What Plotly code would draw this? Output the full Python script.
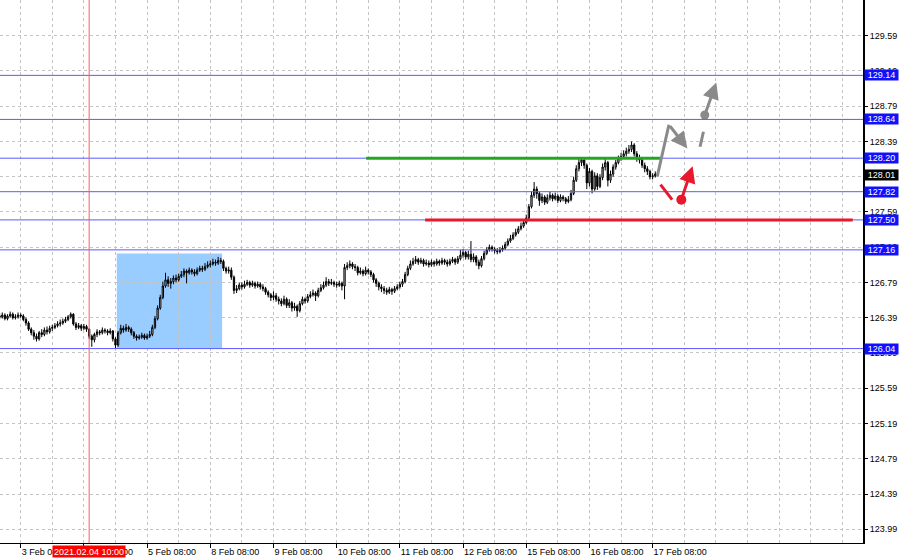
import plotly.graph_objects as go

# ---------------- data (H1 candles, bar index 0 = 3 Feb 00:00) ----------------
close = [
    126.40, 126.42, 126.38, 126.41, 126.43, 126.39, 126.40, 126.42, 126.41, 126.37,
    126.33, 126.26, 126.22, 126.18, 126.15, 126.22, 126.20, 126.25, 126.23, 126.27,
    126.28, 126.30, 126.32, 126.33, 126.35, 126.37, 126.40, 126.43, 126.32, 126.28,
    126.30, 126.27, 126.29, 126.26, 126.18, 126.14, 126.20, 126.23, 126.22, 126.25,
    126.24, 126.22, 126.24, 126.15, 126.08, 126.22, 126.27, 126.25, 126.28, 126.26,
    126.22, 126.18, 126.16, 126.17, 126.19, 126.16, 126.18, 126.20, 126.28, 126.38,
    126.50, 126.62, 126.75, 126.82, 126.78, 126.80, 126.84, 126.82, 126.86, 126.88,
    126.92, 126.90, 126.93, 126.91, 126.89, 126.93, 126.95, 126.94, 126.97, 126.99,
    127.00, 127.02, 127.01, 127.04, 127.03, 126.95, 126.92, 126.93, 126.85, 126.70,
    126.72, 126.76, 126.74, 126.77, 126.79, 126.76, 126.78, 126.75, 126.77, 126.74,
    126.72, 126.68, 126.65, 126.62, 126.64, 126.60, 126.58, 126.55, 126.60, 126.53,
    126.56, 126.50, 126.52, 126.47, 126.55, 126.60, 126.58, 126.63, 126.65, 126.67,
    126.64, 126.70, 126.73, 126.76, 126.80, 126.78, 126.79, 126.77, 126.76, 126.78,
    126.75, 126.96, 126.98, 127.00, 126.97, 126.96, 126.90, 126.92, 126.89, 126.93,
    126.91, 126.88, 126.82, 126.78, 126.74, 126.72, 126.70, 126.68, 126.71, 126.69,
    126.72, 126.74, 126.77, 126.80, 126.88, 126.95, 127.00, 127.03, 127.05, 127.02,
    127.04, 127.00, 127.01, 126.99, 127.02, 127.00, 127.03, 127.01, 127.04, 127.02,
    127.00, 127.03, 127.05, 127.02, 127.06, 127.10, 127.13, 127.08, 127.11, 127.05,
    127.08, 127.02, 126.98, 127.06, 127.12, 127.16, 127.19, 127.17, 127.15, 127.14,
    127.16, 127.18, 127.22, 127.26, 127.29, 127.33, 127.36, 127.40, 127.43, 127.47,
    127.52, 127.65, 127.78, 127.85, 127.80, 127.72, 127.76, 127.70, 127.75, 127.78,
    127.74, 127.77, 127.72, 127.76, 127.74, 127.71, 127.73, 127.80, 127.95, 128.08,
    128.15, 128.18, 128.12, 127.92, 128.05, 127.85, 128.00, 127.88, 127.98, 128.10,
    128.15, 127.95, 128.02, 128.10, 128.15, 128.20, 128.22, 128.25, 128.28, 128.30,
    128.35, 128.25, 128.20, 128.18, 128.12, 128.08, 128.05, 127.99, 128.00, 128.02,
    128.01,
]
high = [
    126.44, 126.45, 126.44, 126.43, 126.46, 126.45, 126.43, 126.45, 126.44, 126.43,
    126.39, 126.35, 126.28, 126.25, 126.21, 126.24, 126.26, 126.28, 126.29, 126.30,
    126.31, 126.33, 126.35, 126.37, 126.38, 126.40, 126.42, 126.45, 126.44, 126.34,
    126.33, 126.32, 126.32, 126.31, 126.27, 126.20, 126.22, 126.26, 126.25, 126.28,
    126.27, 126.26, 126.27, 126.25, 126.17, 126.24, 126.31, 126.30, 126.32, 126.30,
    126.28, 126.24, 126.20, 126.20, 126.22, 126.21, 126.21, 126.24, 126.31, 126.41,
    126.53, 126.65, 126.80, 126.90, 126.86, 126.84, 126.87, 126.88, 126.89, 126.92,
    126.95, 126.94, 126.96, 126.95, 126.94, 126.96, 126.98, 126.98, 127.01, 127.03,
    127.04, 127.06, 127.05, 127.08, 127.07, 127.05, 126.97, 126.97, 126.96, 126.87,
    126.76, 126.79, 126.79, 126.81, 126.82, 126.81, 126.81, 126.80, 126.80, 126.79,
    126.77, 126.74, 126.70, 126.67, 126.69, 126.67, 126.63, 126.61, 126.64, 126.62,
    126.60, 126.58, 126.56, 126.54, 126.58, 126.63, 126.62, 126.66, 126.69, 126.71,
    126.69, 126.73, 126.77, 126.80, 126.85, 126.83, 126.83, 126.81, 126.80, 126.81,
    126.80, 127.00, 127.02, 127.04, 127.02, 127.00, 126.98, 126.96, 126.94, 126.97,
    126.95, 126.93, 126.90, 126.84, 126.80, 126.77, 126.75, 126.73, 126.74, 126.73,
    126.75, 126.77, 126.80, 126.83, 126.91, 126.98, 127.04, 127.07, 127.09, 127.07,
    127.07, 127.06, 127.05, 127.04, 127.05, 127.04, 127.06, 127.05, 127.07, 127.06,
    127.05, 127.06, 127.08, 127.07, 127.09, 127.16, 127.17, 127.15, 127.15, 127.26,
    127.12, 127.10, 127.05, 127.09, 127.15, 127.19, 127.22, 127.21, 127.19, 127.18,
    127.19, 127.21, 127.25, 127.29, 127.33, 127.36, 127.40, 127.43, 127.47, 127.51,
    127.56, 127.68, 127.82, 127.93, 127.88, 127.82, 127.80, 127.78, 127.79, 127.82,
    127.80, 127.81, 127.79, 127.79, 127.78, 127.76, 127.77, 127.84, 127.99, 128.12,
    128.20, 128.21, 128.20, 128.14, 128.09, 128.07, 128.04, 128.03, 128.02, 128.14,
    128.20, 128.17, 128.06, 128.13, 128.18, 128.23, 128.26, 128.29, 128.32, 128.35,
    128.39, 128.37, 128.28, 128.24, 128.20, 128.15, 128.11, 128.07, 128.03, 128.05,
    128.04,
]
low = [
    126.37, 126.38, 126.36, 126.36, 126.39, 126.37, 126.37, 126.38, 126.39, 126.35,
    126.30, 126.24, 126.19, 126.14, 126.12, 126.13, 126.17, 126.18, 126.20, 126.21,
    126.24, 126.26, 126.28, 126.29, 126.31, 126.33, 126.35, 126.38, 126.30, 126.25,
    126.26, 126.24, 126.25, 126.23, 126.15, 126.06, 126.11, 126.17, 126.19, 126.20,
    126.21, 126.19, 126.20, 126.12, 126.04, 126.06, 126.20, 126.22, 126.23, 126.23,
    126.19, 126.15, 126.13, 126.14, 126.15, 126.14, 126.14, 126.16, 126.18, 126.26,
    126.36, 126.48, 126.60, 126.73, 126.74, 126.72, 126.77, 126.79, 126.80, 126.84,
    126.85, 126.78, 126.88, 126.88, 126.86, 126.87, 126.91, 126.91, 126.92, 126.95,
    126.96, 126.98, 126.98, 126.99, 127.00, 126.92, 126.89, 126.89, 126.82, 126.66,
    126.67, 126.70, 126.71, 126.72, 126.75, 126.73, 126.74, 126.72, 126.73, 126.71,
    126.69, 126.65, 126.62, 126.58, 126.59, 126.57, 126.54, 126.52, 126.53, 126.50,
    126.50, 126.46, 126.47, 126.40, 126.45, 126.53, 126.55, 126.56, 126.61, 126.63,
    126.58, 126.62, 126.68, 126.71, 126.74, 126.75, 126.76, 126.74, 126.73, 126.74,
    126.70, 126.60, 126.93, 126.95, 126.94, 126.92, 126.87, 126.88, 126.86, 126.87,
    126.88, 126.85, 126.79, 126.74, 126.70, 126.68, 126.66, 126.65, 126.66, 126.65,
    126.67, 126.70, 126.72, 126.74, 126.78, 126.86, 126.93, 126.98, 127.00, 126.99,
    127.00, 126.97, 126.98, 126.96, 126.97, 126.97, 126.98, 126.98, 126.99, 126.99,
    126.97, 126.98, 127.01, 126.99, 127.00, 127.04, 127.07, 127.05, 127.05, 127.02,
    127.02, 126.98, 126.94, 126.96, 127.04, 127.10, 127.14, 127.14, 127.12, 127.11,
    127.12, 127.14, 127.16, 127.20, 127.24, 127.27, 127.31, 127.34, 127.38, 127.41,
    127.45, 127.50, 127.63, 127.75, 127.74, 127.66, 127.69, 127.67, 127.68, 127.72,
    127.71, 127.72, 127.69, 127.70, 127.71, 127.68, 127.69, 127.71, 127.78, 127.93,
    128.05, 128.11, 128.08, 127.85, 127.88, 127.80, 127.83, 127.84, 127.86, 127.95,
    128.06, 127.88, 127.92, 127.99, 128.07, 128.13, 128.17, 128.20, 128.22, 128.25,
    128.27, 128.22, 128.16, 128.14, 128.09, 128.04, 128.01, 127.96, 127.96, 127.98,
    127.99,
]
first_open = 126.41
open_ = [first_open] + close[:-1]
bars = list(range(len(close)))

day_tick_bars = [8, 32, 56, 80, 104, 128, 152, 176, 200, 224, 248]
day_labels = ["3 Feb 08:00", "4 Feb 08:00", "5 Feb 08:00", "8 Feb 08:00", "9 Feb 08:00",
              "10 Feb 08:00", "11 Feb 08:00", "12 Feb 08:00", "15 Feb 08:00",
              "16 Feb 08:00", "17 Feb 08:00"]
price_ticks = [123.99, 124.39, 124.79, 125.19, 125.59, 125.99, 126.39, 126.79,
               127.19, 127.59, 127.99, 128.39, 128.79, 129.19, 129.59]
levels = [129.14, 128.64, 128.20, 127.82, 127.50, 127.16, 126.04]
last_price = 128.01
marker_bar = 34
marker_label = "2021.02.04 10:00"
zone_bars = [44.5, 84.5]
zone_prices = [126.04, 127.12]
green_bars = [139.2, 251.0]
green_price = 128.20
red_bars = [161.6, 324.0]
red_price = 127.50

# forecast drawings (bar index, price)
gray_up_x = [249.8, 254.2]
gray_up_y = [128.00, 128.58]
gray_down_x = [254.2, 261.2]
gray_down_y = [128.58, 128.31]
gray_dash_x = [266.0, 267.3]
gray_dash_y = [128.33, 128.50]
gray_dot = (267.8, 128.69)
gray_tip = (272.2, 129.06)
red_seg_x = [251.0, 255.4]
red_seg_y = [127.90, 127.73]
red_dot = (258.9, 127.73)
red_tip = (263.2, 128.11)

X_RANGE = [0.14, 327.9]
Y_RANGE = [123.834, 129.995]
GRID = "#c4c4c4"
GRAY = "#8a8a8a"
RED = "#e8192c"
FONT = "Liberation Sans"

fig = go.Figure()
fig.add_trace(go.Candlestick(
    x=bars, open=open_, high=high, low=low, close=close,
    increasing=dict(line=dict(color="black", width=1), fillcolor="#e6e6e6"),
    decreasing=dict(line=dict(color="black", width=1), fillcolor="black"),
    whiskerwidth=0, showlegend=False, hoverinfo="skip"))

# forecast dots
fig.add_trace(go.Scatter(x=[gray_dot[0]], y=[gray_dot[1]], mode="markers",
                         marker=dict(color=GRAY, size=9), showlegend=False, hoverinfo="skip"))
fig.add_trace(go.Scatter(x=[red_dot[0]], y=[red_dot[1]], mode="markers",
                         marker=dict(color=RED, size=10), showlegend=False, hoverinfo="skip"))

shapes = []
shapes.append(dict(type="rect", xref="x", yref="y", x0=zone_bars[0], x1=zone_bars[1],
                   y0=zone_prices[0], y1=zone_prices[1], fillcolor="#99ccff",
                   line=dict(width=0), layer="below"))
for lv in levels:
    shapes.append(dict(type="line", xref="paper", yref="y", x0=0, x1=1, y0=lv, y1=lv,
                       line=dict(color="#5a5aff", width=1), layer="above"))
shapes.append(dict(type="line", xref="x", yref="paper", x0=marker_bar, x1=marker_bar,
                   y0=0, y1=1, line=dict(color="#ff5a5a", width=1), layer="above"))
shapes.append(dict(type="line", xref="x", yref="y", x0=green_bars[0], x1=green_bars[1],
                   y0=green_price, y1=green_price, line=dict(color="#22a722", width=3),
                   layer="above"))
shapes.append(dict(type="line", xref="x", yref="y", x0=red_bars[0], x1=red_bars[1],
                   y0=red_price, y1=red_price, line=dict(color=RED, width=3), layer="above"))
shapes.append(dict(type="line", xref="x", yref="y", x0=gray_up_x[0], x1=gray_up_x[1],
                   y0=gray_up_y[0], y1=gray_up_y[1], line=dict(color=GRAY, width=3)))
shapes.append(dict(type="line", xref="x", yref="y", x0=gray_dash_x[0], x1=gray_dash_x[1],
                   y0=gray_dash_y[0], y1=gray_dash_y[1], line=dict(color=GRAY, width=3)))
shapes.append(dict(type="line", xref="x", yref="y", x0=red_seg_x[0], x1=red_seg_x[1],
                   y0=red_seg_y[0], y1=red_seg_y[1], line=dict(color=RED, width=3)))

annotations = []
arrow_common = dict(xref="x", yref="y", axref="x", ayref="y", text="", showarrow=True,
                    arrowhead=2, arrowsize=1.1, arrowwidth=3, standoff=0, startstandoff=0)
annotations.append(dict(x=gray_down_x[1], y=gray_down_y[1], ax=gray_down_x[0], ay=gray_down_y[0],
                        arrowcolor=GRAY, **arrow_common))
annotations.append(dict(x=gray_tip[0], y=gray_tip[1], ax=gray_dot[0], ay=gray_dot[1],
                        arrowcolor=GRAY, **arrow_common))
annotations.append(dict(x=red_tip[0], y=red_tip[1], ax=red_dot[0], ay=red_dot[1],
                        arrowcolor=RED, **arrow_common))

for lv in levels:
    annotations.append(dict(x=1, xref="paper", xanchor="left", xshift=1, y=lv, yref="y",
                            text=f"{lv:.2f}", showarrow=False, bgcolor="#1010ff",
                            font=dict(color="white", size=9, family=FONT),
                            width=33, height=10, borderpad=0))
annotations.append(dict(x=1, xref="paper", xanchor="left", xshift=1, y=last_price, yref="y",
                        text=f"{last_price:.2f}", showarrow=False, bgcolor="black",
                        font=dict(color="white", size=9, family=FONT),
                        width=33, height=10, borderpad=0))
annotations.append(dict(x=marker_bar, xref="x", y=0, yref="paper", yanchor="top", yshift=-2,
                        text=marker_label, showarrow=False, bgcolor="#ff0000",
                        font=dict(color="white", size=9, family=FONT),
                        width=72, height=11, borderpad=0))

fig.update_layout(
    width=900, height=559,
    margin=dict(l=0, r=37, t=0, b=16, autoexpand=False),
    paper_bgcolor="white", plot_bgcolor="white",
    font=dict(family=FONT, size=9, color="black"),
    shapes=shapes, annotations=annotations, showlegend=False,
    xaxis=dict(range=X_RANGE, tickmode="array", tickvals=day_tick_bars, ticktext=day_labels,
               ticklabelposition="outside right", ticks="outside", ticklen=4,
               tickcolor="black", showline=True, linecolor="black", linewidth=1,
               showgrid=True, gridcolor=GRID, griddash="3px,3px", gridwidth=1,
               zeroline=False, rangeslider=dict(visible=False),
               minor=dict(tick0=-4, dtick=12, showgrid=True, gridcolor=GRID,
                          griddash="3px,3px", ticks="")),
    yaxis=dict(range=Y_RANGE, side="right", tickmode="array", tickvals=price_ticks,
               ticktext=[f"{p:.2f}" for p in price_ticks], ticks="outside", ticklen=3,
               tickcolor="black", showline=True, linecolor="black", linewidth=2,
               showgrid=True, gridcolor=GRID, griddash="3px,3px", gridwidth=1,
               zeroline=False),
)

fig.write_html("out.html",
               config={"displayModeBar": False},
               post_script="document.body.style.margin='0px';"
                           "document.documentElement.style.overflow='hidden';")
